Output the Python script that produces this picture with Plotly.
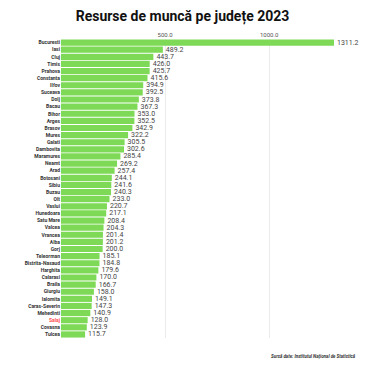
import plotly.graph_objects as go

counties = ["Bucuresti","Iasi","Cluj","Timis","Prahova","Constanta","Ilfov","Suceava","Dolj","Bacau",
            "Bihor","Arges","Brasov","Mures","Galati","Dambovita","Maramures","Neamt","Arad","Botosani",
            "Sibiu","Buzau","Olt","Vaslui","Hunedoara","Satu Mare","Valcea","Vrancea","Alba","Gorj",
            "Teleorman","Bistrita-Nasaud","Harghita","Calarasi","Braila","Giurgiu","Ialomita","Caras-Severin",
            "Mehedinti","Salaj","Covasna","Tulcea"]
values = [1311.2,489.2,443.7,426.0,425.7,415.6,394.9,392.5,373.8,367.3,
          353.0,352.5,342.9,322.2,305.5,302.6,285.4,269.2,257.4,244.1,
          241.6,240.3,233.0,220.7,217.1,208.4,204.3,201.4,201.2,200.0,
          185.1,184.8,179.6,170.0,166.7,158.0,149.1,147.3,140.9,128.0,123.9,115.7]
highlight = "Salaj"
tick_vals = [500, 1000]
tick_text = ["500.0", "1000.0"]

ticktext_y = [f'<b><span style="color:#ff4d4d">{c}</span></b>' if c == highlight else f"<b>{c}</b>"
              for c in counties]

fig = go.Figure(go.Bar(
    x=values, y=counties, orientation="h",
    marker=dict(color="#7ed957", line=dict(width=0)),
    text=[f"{v:.1f}" for v in values], textposition="outside",
    textfont=dict(size=7, color="#444", family="Roboto"),
    cliponaxis=False,
    hoverinfo="none",
))
fig.update_layout(
    width=365, height=365,
    margin=dict(l=61, r=25, t=39, b=26.5),
    plot_bgcolor="white", paper_bgcolor="white",
    bargap=0.13,
    showlegend=False,
    uniformtext=dict(minsize=7, mode="show"),
    title=dict(text="<b>Resurse de muncă pe județe 2023</b>", x=0.5, xanchor="center",
               y=0.955, yanchor="middle", font=dict(size=14, family="Roboto", color="#111")),
    xaxis=dict(range=[0, 1340], side="top", tickvals=tick_vals, ticktext=tick_text,
               showgrid=True, gridcolor="#ececec", gridwidth=1, zeroline=False,
               tickfont=dict(size=6, color="#555", family="Roboto"), ticks="", showline=False),
    yaxis=dict(autorange="reversed", tickvals=counties, ticktext=ticktext_y,
               tickfont=dict(size=5, color="#333", family="Roboto"), ticks="",
               showgrid=False, showline=False),
    annotations=[dict(text="<b><i>Sursă date: Institutul Național de Statistică</i></b>",
                      xref="paper", yref="paper", x=1.065, y=-0.062, xanchor="right", yanchor="middle",
                      showarrow=False, font=dict(size=4.5, color="#333", family="Roboto"))],
)
fig.write_html("out.html", config={"displayModeBar": False},
               post_script="document.body.style.margin='0';document.body.style.overflow='hidden';")
